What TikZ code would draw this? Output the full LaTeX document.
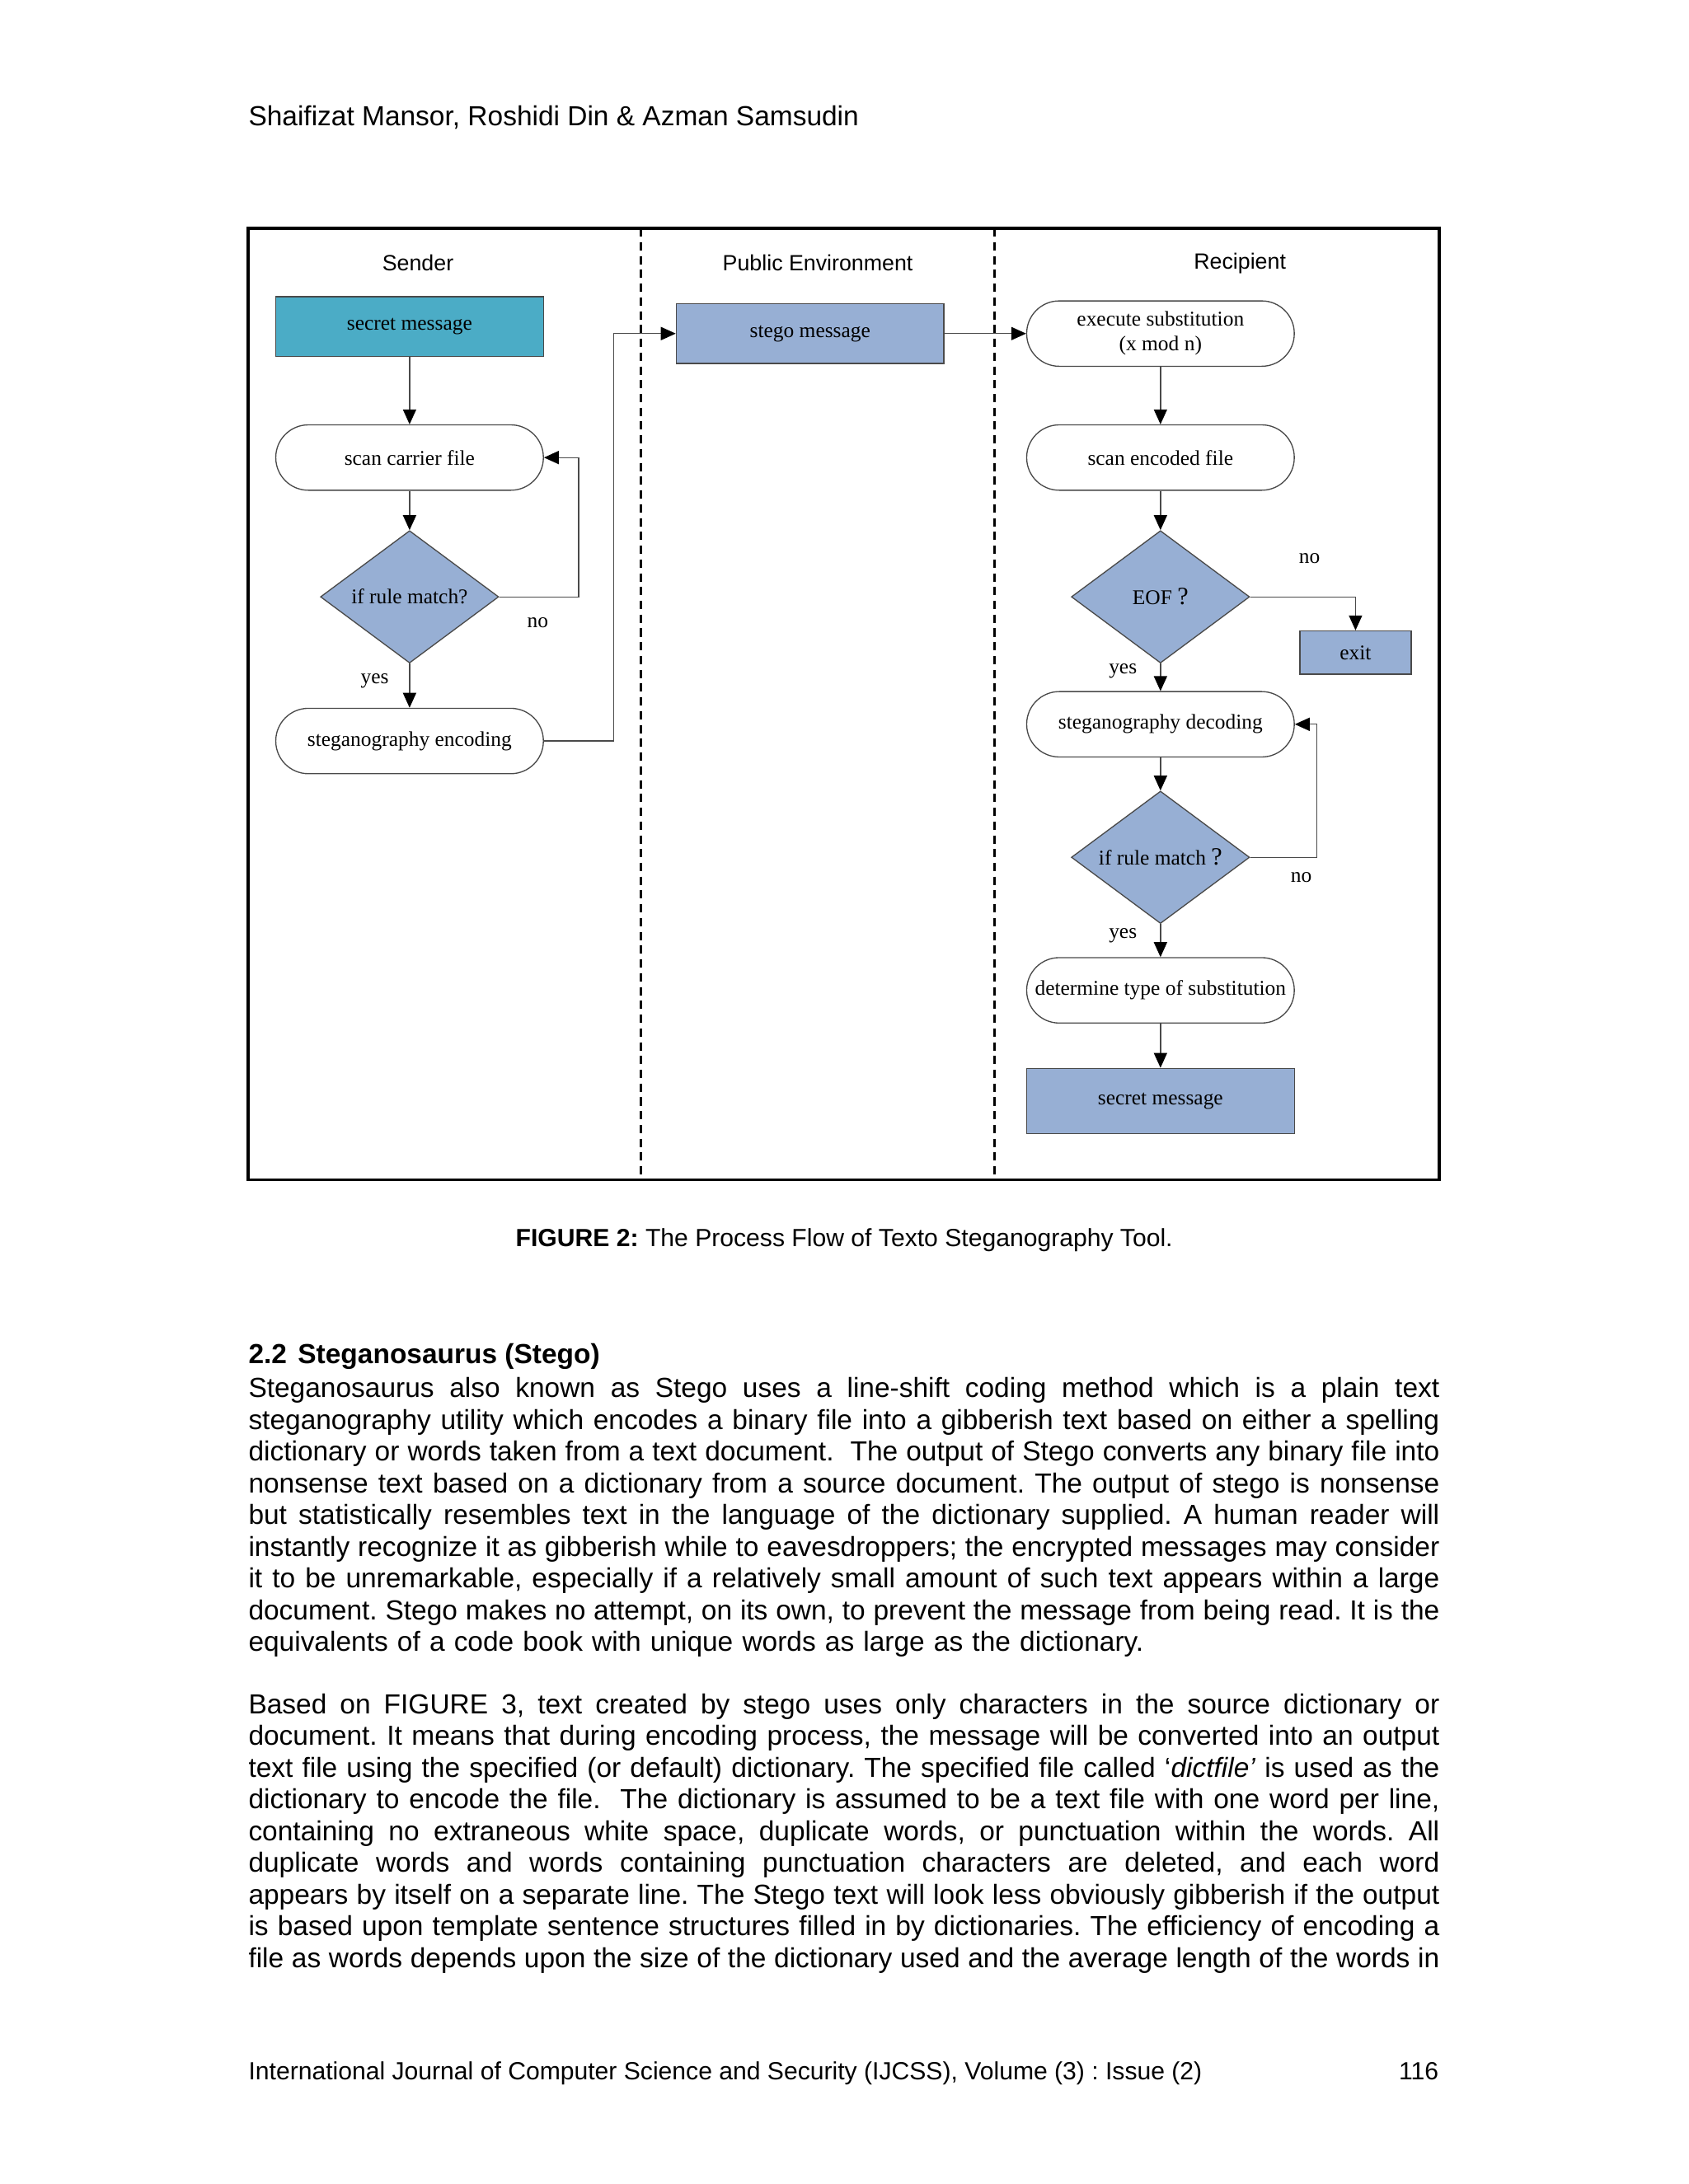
\documentclass[tikz,border=0pt]{standalone}
\usepackage{fontspec}
\setmainfont{Liberation Sans}
\newfontfamily\figserif{Liberation Serif}
\usetikzlibrary{shapes.geometric,arrows.meta,positioning}

\definecolor{tealbox}{HTML}{4BACC6}
\definecolor{greybox}{HTML}{97AFD4}
\definecolor{edgegrey}{HTML}{4A4A4A}

\newcommand\jline[1]{{\spaceskip=0pt\xspaceskip=0pt\makebox[431.7pt][s]{#1}}}

\begin{document}
\frenchspacing
\begin{tikzpicture}[x=0.50495pt,y=-0.50495pt,
  proc/.style={draw=edgegrey, line width=0.4pt, minimum width=97pt, minimum height=21.7pt,
    inner sep=0pt, font=\figserif\fontsize{7.6}{9}\selectfont},
  term/.style={proc, rounded corners=11.8pt, minimum height=23.7pt, fill=white, align=center},
  cond/.style={diamond, draw=edgegrey, line width=0.4pt, fill=greybox, aspect=1.35,
    minimum width=64.6pt, minimum height=48pt, inner sep=0pt, font=\figserif\fontsize{7.6}{9}\selectfont},
  lbl/.style={inner sep=0pt, font=\figserif\fontsize{7.6}{9}\selectfont},
  lane/.style={inner sep=0pt, font=\fontsize{8}{9.6}\selectfont},
  flow/.style={draw=edgegrey, line width=0.4pt, -{Triangle[length=5.4pt,width=4.8pt,color=black]}},
  bodytext/.style={inner sep=0pt, font=\fontsize{10}{11.5}\selectfont\frenchspacing},
  smalltext/.style={inner sep=0pt, font=\fontsize{9}{10.35}\selectfont\frenchspacing},
  para/.style={bodytext, text width=431.7pt, align=left, anchor=north west}]

  \useasboundingbox (0,0) rectangle (1212,1568);
  \fill[white] (0,0) rectangle (1212,1568);

  % page head
  \node[bodytext, anchor=base west] (head) at (178,90) {Shaifizat Mansor, Roshidi Din \& Azman Samsudin};

  %% figure frame and lanes
  \draw[line width=1pt] (178,164) rectangle (1033,847);
  \draw[line width=0.8pt, dash pattern=on 3pt off 2pt] (460,164) -- (460,847);
  \draw[line width=0.8pt, dash pattern=on 3pt off 2pt] (714,164) -- (714,847);
  \node[lane] (sender) at (300,189) {Sender};
  \node[lane] (public) at (587,189) {Public Environment};
  \node[lane] (recip) at (890,189) {Recipient};

  % sender side
  \node[proc, fill=tealbox] (sm1) at (294,234.5) {secret message};
  \node[term] (scan) at (294,328.5) {scan carrier file};
  \node[cond] (rule1) at (294,428.5) {if rule match?};
  \node[term] (enc) at (294,532) {steganography encoding};
  \node[lbl] (no1) at (386,447) {no};
  \node[lbl] (yes1) at (269,489) {yes};

  % public environment
  \node[proc, fill=greybox] (stego) at (581.5,239.5) {stego message};

  % recipient side
  \node[term] (exec) at (833,239.5) {execute substitution\\(x mod n)};
  \node[term] (scanenc) at (833,328.5) {scan encoded file};
  \node[cond] (eof) at (833,428.5) {EOF {\fontsize{9}{9}\selectfont ?}};
  \node[proc, fill=greybox, minimum width=40.4pt, minimum height=15.7pt] (exit) at (973,468.5) {exit};
  \node[term] (dec) at (833,520) {steganography decoding};
  \node[cond] (rule2) at (833,615.5) {if rule match {\fontsize{9}{9}\selectfont ?}};
  \node[term] (det) at (833,711) {determine type of substitution};
  \node[proc, fill=greybox, minimum height=23.7pt] (sm2) at (833,790.5) {secret message};
  \node[lbl] (no2) at (940,401) {no};
  \node[lbl] (yes2) at (806,482) {yes};
  \node[lbl] (no3) at (934,630) {no};
  \node[lbl] (yes3) at (806,672) {yes};

  % connectors
  \draw[flow] (sm1) -- (scan);
  \draw[flow] (scan) -- (rule1);
  \draw[flow] (rule1) -- (enc);
  \draw[flow] (rule1.east) -- ++(57,0) |- (scan.east);
  \draw[flow] (enc.east) -- ++(50,0) |- (stego.west);
  \draw[flow] (stego) -- (exec);
  \draw[flow] (exec) -- (scanenc);
  \draw[flow] (scanenc) -- (eof);
  \draw[flow] (eof) -| (exit);
  \draw[flow] (eof) -- (dec);
  \draw[flow] (dec) -- (rule2);
  \draw[flow] (rule2.east) -- ++(48,0) |- (dec.east);
  \draw[flow] (rule2) -- (det);
  \draw[flow] (det) -- (sm2);

  % caption
  \node[smalltext, anchor=base] (cap) at (606,895) {\textbf{FIGURE 2:} The Process Flow of Texto Steganography Tool.};

  %% section text
  \node[bodytext, anchor=base west] (sec) at (178,979) {\textbf{2.2\hspace{4pt}Steganosaurus (Stego)}};
  \node[para] (para1) at (178,987) {%
    \jline{\strut Steganosaurus also known as Stego uses a line-shift coding method which is a plain text}\\
    \jline{steganography utility which encodes a binary file into a gibberish text based on either a spelling}\\
    \jline{dictionary or words taken from a text document.\ \ The output of Stego converts any binary file into}\\
    \jline{nonsense text based on a dictionary from a source document. The output of stego is nonsense}\\
    \jline{but statistically resembles text in the language of the dictionary supplied. A human reader will}\\
    \jline{instantly recognize it as gibberish while to eavesdroppers; the encrypted messages may consider}\\
    \jline{it to be unremarkable, especially if a relatively small amount of such text appears within a large}\\
    \jline{document. Stego makes no attempt, on its own, to prevent the message from being read. It is the}\\
    equivalents of a code book with unique words as large as the dictionary.};
  \node[para] (para2) at (178,1214) {%
    \jline{\strut Based on FIGURE 3, text created by stego uses only characters in the source dictionary or}\\
    \jline{document. It means that during encoding process, the message will be converted into an output}\\
    \jline{text file using the specified (or default) dictionary. The specified file called ‘\textit{dictfile’} is used as the}\\
    \jline{dictionary to encode the file.\ \ The dictionary is assumed to be a text file with one word per line,}\\
    \jline{containing no extraneous white space, duplicate words, or punctuation within the words. All}\\
    \jline{duplicate words and words containing punctuation characters are deleted, and each word}\\
    \jline{appears by itself on a separate line. The Stego text will look less obviously gibberish if the output}\\
    \jline{is based upon template sentence structures filled in by dictionaries. The efficiency of encoding a}\\
    \jline{file as words depends upon the size of the dictionary used and the average length of the words in}};

  % page foot
  \node[smalltext, anchor=base west] (foot) at (178,1493) {International Journal of Computer Science and Security (IJCSS), Volume (3) : Issue (2)};
  \node[smalltext, anchor=base east] (pageno) at (1033,1493) {116};
\end{tikzpicture}
\end{document}
